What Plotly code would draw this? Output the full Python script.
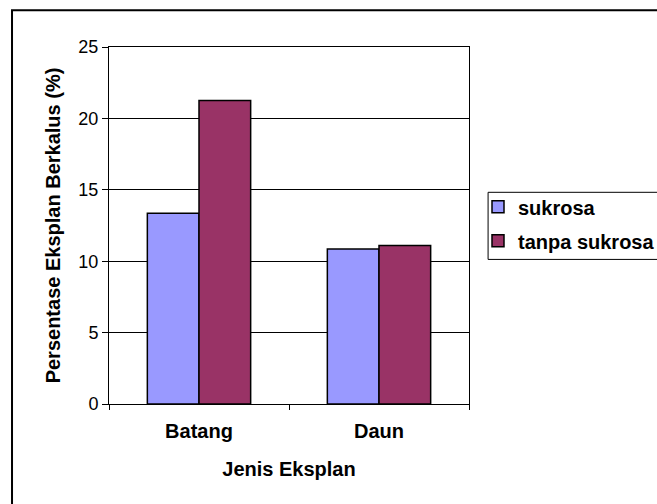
import plotly.graph_objects as go

# Explant types and callus percentages per treatment
categories = ["Batang", "Daun"]
sukrosa = [13.35, 10.85]
tanpa_sukrosa = [21.25, 11.1]
series_names = ["sukrosa", "tanpa sukrosa"]
y_ticks = [0, 5, 10, 15, 20, 25]

FONT = "Liberation Sans, Arial, sans-serif"

fig = go.Figure()
fig.add_trace(go.Bar(
    x=categories, y=sukrosa, name=series_names[0], legendgroup="a",
    marker=dict(color="#9999FF", line=dict(color="black", width=1.5)),
))
fig.add_trace(go.Bar(
    x=categories, y=tanpa_sukrosa, name=series_names[1], legendgroup="b",
    marker=dict(color="#993366", line=dict(color="black", width=1.5)),
))

fig.update_layout(
    width=657, height=504,
    margin=dict(l=109, r=188, t=47, b=100, autoexpand=False),
    paper_bgcolor="white", plot_bgcolor="white",
    barmode="group", bargap=0.426, bargroupgap=0,
    font=dict(family=FONT, color="black"),
    legend=dict(
        x=1.025, y=0.607, xanchor="left", yanchor="top",
        borderwidth=0, bgcolor="rgba(0,0,0,0)",
        font=dict(family=FONT, size=20, color="black", weight="bold"),
        tracegroupgap=5,
    ),
    xaxis=dict(
        title=dict(text="<b>Jenis Eksplan</b>", font=dict(size=20), standoff=20),
        tickfont=dict(size=20, weight="bold"),
        showline=True, linecolor="black", linewidth=1, mirror=True,
        ticks="outside", tickson="boundaries", ticklen=5, tickcolor="black",
        ticklabelstandoff=9,
    ),
    yaxis=dict(
        title=dict(text="<b>Persentase Eksplan Berkalus (%)</b>", font=dict(size=20), standoff=12),
        range=[0, 25], tickvals=y_ticks,
        tickfont=dict(size=18),
        showline=True, linecolor="black", linewidth=1, mirror=True,
        ticks="outside", ticklen=6, tickcolor="black",
        showgrid=True, gridcolor="black", gridwidth=1, zeroline=False,
    ),
    shapes=[
        # outer chart frame
        dict(type="rect", xref="paper", yref="paper",
             x0=-0.2694, x1=1.6, y0=-0.35, y1=1.1028,
             line=dict(color="black", width=2), fillcolor="rgba(0,0,0,0)", layer="above"),
        # legend frame
        dict(type="rect", xref="paper", yref="paper",
             x0=1.053, x1=1.6, y0=0.405, y1=0.593,
             line=dict(color="black", width=1), fillcolor="rgba(0,0,0,0)", layer="above"),
    ],
)

fig.write_html("out.html")
